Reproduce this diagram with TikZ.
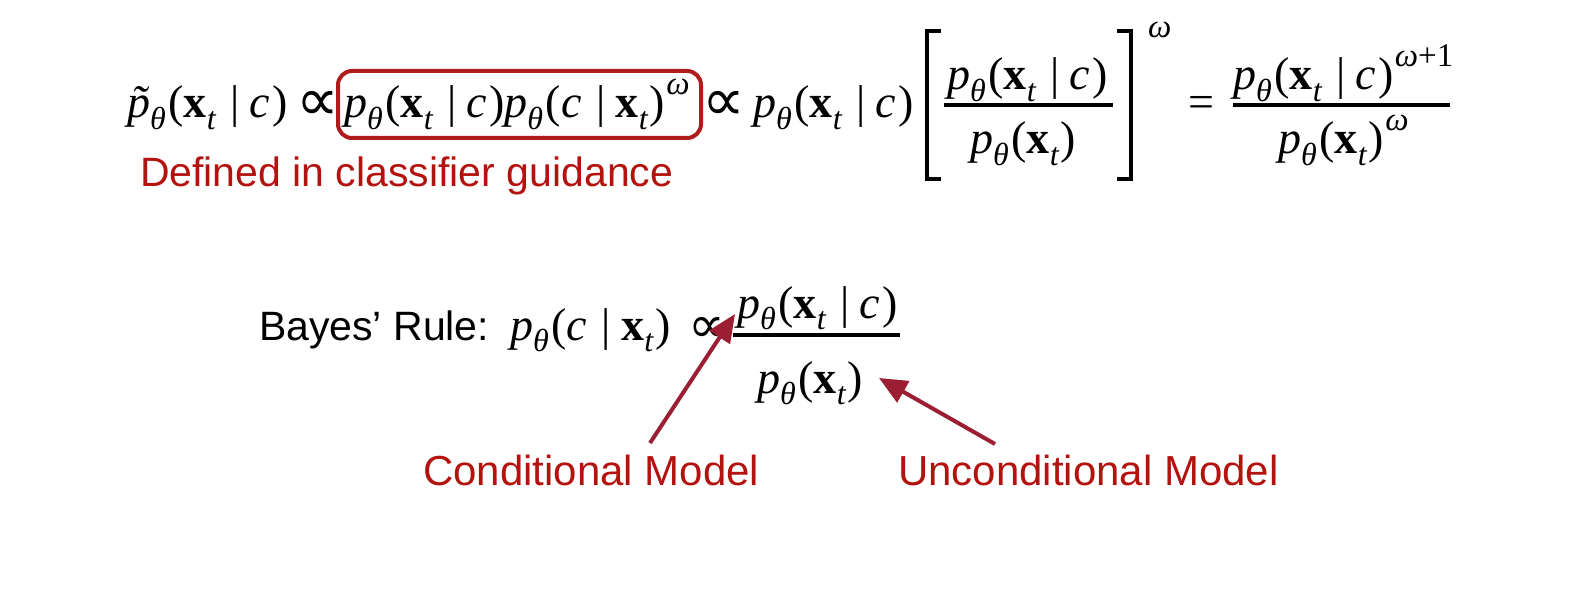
\documentclass[tikz,border=0pt]{standalone}
\usepackage{fontspec}
\setmainfont{Liberation Serif}
\newfontfamily\labelfont{Liberation Sans}
\newfontfamily\symfont{DejaVu Sans}
\usetikzlibrary{arrows.meta}
\definecolor{boxred}{RGB}{176,28,28}
\definecolor{labred}{RGB}{180,18,14}
\definecolor{arrred}{RGB}{155,30,50}
\newcommand\lo[1]{\raisebox{-0.26em}{\fontsize{16}{18}\selectfont #1}}
\newcommand\hi[1]{\hspace{0.03em}\raisebox{0.5em}{\fontsize{16.5}{18}\selectfont #1}}
\newcommand\pth{\textit{p}\lo{\textit{θ}}\hspace{0.06em}}
\newcommand\ptil{\makebox[0pt][l]{\hspace{0.1em}\textit{˜}}\textit{p}\lo{\textit{θ}}\hspace{0.06em}}
\newcommand\xt{\textbf{x}\lo{\textit{t}}\hspace{0.03em}}
\newcommand\gv{\hspace{0.28em}|\hspace{0.22em}}
\newcommand\cc{\textit{c}\hspace{0.04em}}
\newcommand\prop[1][1.3]{\raisebox{-0.05em}{\scalebox{#1}{\symfont ∝}}}
\begin{document}
\begin{tikzpicture}[x=0.5pt,y=-0.5pt,
  mth/.style={anchor=base west, inner sep=0pt, outer sep=0pt, font=\fontsize{23}{27}\selectfont},
  lbl/.style={anchor=base west, inner sep=0pt, outer sep=0pt, font=\labelfont\fontsize{20.5}{24}\selectfont, text=labred},
  fracbar/.style={line width=2.4pt},
  brack/.style={line width=2.4pt, line join=miter},
  pointer/.style={draw=arrred, line width=2pt, -{Triangle[length=14pt,width=12pt,fill=arrred]}},
  gbox/.style={draw=boxred, line width=2pt, rounded corners=7pt}]
\useasboundingbox (0,0) rectangle (1588,593);
% top line
\node[mth] (lhs) at (127,118) {\ptil(\xt\gv\cc)};
\node[mth] (prop1) at (296,118) {\prop};
\node[mth] (cg) at (344,118) {\pth(\xt\gv\cc)\pth(\cc\gv\xt)\hi{\textit{ω}}};
\draw[gbox] (338,71) rectangle (701,138);
\node[lbl] (defined) at (140,187) {Defined in classifier guidance};
\node[mth] (prop2) at (702,118) {\prop};
\node[mth] (lik) at (753,118) {\pth(\xt\gv\cc)};
\draw[brack] (941,31) -- (927,31) -- (927,179) -- (941,179);
\node[mth] (num1) at (947,90) {\pth(\xt\gv\cc)};
\draw[fracbar] (944,105) -- (1113,105);
\node[mth] (den1) at (970,154) {\pth(\xt)};
\draw[brack] (1117,31) -- (1131,31) -- (1131,179) -- (1117,179);
\node[mth] (omega1) at (1148,38) {\fontsize{16.5}{18}\selectfont\textit{ω}};
\node[mth] (eq) at (1188,118) {=};
\node[mth] (num2) at (1233,90) {\pth(\xt\gv\cc)\hi{\textit{ω}+1}};
\draw[fracbar] (1233,105) -- (1450,105);
\node[mth] (den2) at (1278,154) {\pth(\xt)\hi{\textit{ω}}};
% bottom
\node[lbl, text=black] (bayes) at (259,340) {Bayes’ Rule:};
\node[mth] (post) at (510,340) {\pth(\cc\gv\xt)};
\node[mth] (prop3) at (688,340) {\prop[1.12]};
\node[mth] (num3) at (737,318) {\pth(\xt\gv\cc)};
\draw[fracbar] (733,335) -- (900,335);
\node[mth] (den3) at (757,393) {\pth(\xt)};
\node[lbl, font=\labelfont\fontsize{21}{24}\selectfont] (cond) at (423,485) {Conditional Model};
\node[lbl, font=\labelfont\fontsize{21}{24}\selectfont] (uncond) at (898,485) {Unconditional Model};
\coordinate (t1) at (650,443);
\coordinate (h1) at (735,314);
\coordinate (t2) at (995,444);
\coordinate (h2) at (879,378);
\draw[pointer] (t1) -- (h1);
\draw[pointer] (t2) -- (h2);
\end{tikzpicture}
\end{document}
